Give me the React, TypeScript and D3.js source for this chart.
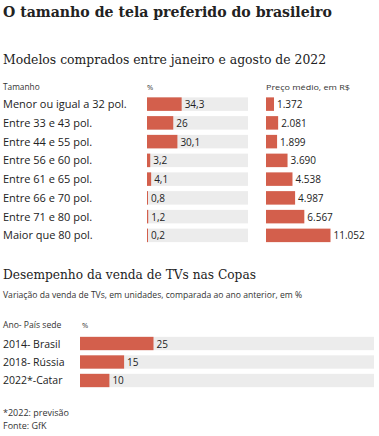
import React from "react";
import * as d3 from "d3";

const sizeCategories = [
  "Menor ou igual a 32 pol.",
  "Entre 33 e 43 pol.",
  "Entre 44 e 55 pol.",
  "Entre 56 e 60 pol.",
  "Entre 61 e 65 pol.",
  "Entre 66 e 70 pol.",
  "Entre 71 e 80 pol.",
  "Maior que 80 pol.",
];
const sharePct = [34.3, 26, 30.1, 3.2, 4.1, 0.8, 1.2, 0.2];
const avgPrice = [1372, 2081, 1899, 3690, 4538, 4987, 6567, 11052];

const cupLabels = ["2014- Brasil", "2018- Rússia", "2022*-Catar"];
const cupValues = [25, 15, 10];

const RED = "#d35f4c";
const GREY = "#ececec";
const SANS = "'Open Sans', 'Noto Sans', sans-serif";
const SERIF = "'DejaVu Serif', serif";

const fmtPct = (v: number) => String(v).replace(".", ",");
const fmtPrice = (v: number) => d3.format(",")(v).replace(/,/g, ".");

export default function App() {
  const W = 379, H = 436;

  const yRows = d3.scaleBand<string>().domain(sizeCategories).range([95.5, 244]).paddingInner(0.28).paddingOuter(0.1);
  const xPct = d3.scaleLinear().domain([0, 100]).range([0, 101]);
  const xPrice = d3.scaleLinear().domain([0, 11052]).range([0, 64.5]);
  const pctX0 = 147;
  const priceX0 = 266;

  const yCup = d3.scaleBand<string>().domain(cupLabels).range([335, 389]).paddingInner(0.28).paddingOuter(0.1);
  const xCup = d3.scaleLinear().domain([0, 100]).range([0, 294]);
  const cupX0 = 80;

  return (
    <svg width={W} height={H} style={{ position: "absolute", left: 0, top: 0, background: "#fff" }}>
      <text x={3} y={17} fontFamily={SERIF} fontWeight="bold" fontSize={14.1} fill="#222">
        O tamanho de tela preferido do brasileiro
      </text>
      <text x={3} y={64} fontFamily={SERIF} fontSize={12.4} fill="#222">
        Modelos comprados entre janeiro e agosto de 2022
      </text>
      <text x={3} y={90} fontFamily={SANS} fontSize={8.3} fill="#333">Tamanho</text>
      <text x={147} y={90} fontFamily={SANS} fontSize={7.5} fill="#333">%</text>
      <text x={266} y={90} fontFamily={SANS} fontSize={8} fill="#333" textLength={84} lengthAdjust="spacingAndGlyphs">Preço médio, em R$</text>

      {sizeCategories.map((c, i) => {
        const y = yRows(c)!;
        const h = yRows.bandwidth();
        const cy = y + h / 2;
        return (
          <g key={c}>
            <text x={3} y={cy + 4} fontFamily={SANS} fontSize={11} fill="#222">{c}</text>
            <rect x={pctX0} y={y} width={xPct(100)} height={h} fill={GREY} />
            <rect x={pctX0} y={y} width={Math.max(1, xPct(sharePct[i]))} height={h} fill={RED} />
            <text x={pctX0 + Math.max(1, xPct(sharePct[i])) + 3} y={cy + 4} fontFamily={SANS} fontSize={10} fill="#222">
              {fmtPct(sharePct[i])}
            </text>
            <rect x={priceX0} y={y} width={xPrice(avgPrice[i])} height={h} fill={RED} />
            <text x={priceX0 + xPrice(avgPrice[i]) + 3} y={cy + 4} fontFamily={SANS} fontSize={10} fill="#222">
              {fmtPrice(avgPrice[i])}
            </text>
          </g>
        );
      })}

      <text x={3} y={279} fontFamily={SERIF} fontSize={12.2} fill="#222">
        Desempenho da venda de TVs nas Copas
      </text>
      <text x={3} y={298} fontFamily={SANS} fontSize={8.6} fill="#333">
        Variação da venda de TVs, em unidades, comparada ao ano anterior, em %
      </text>
      <text x={3} y={328} fontFamily={SANS} fontSize={8.6} fill="#333">Ano- País sede</text>
      <text x={82} y={328} fontFamily={SANS} fontSize={7.5} fill="#333">%</text>

      {cupLabels.map((c, i) => {
        const y = yCup(c)!;
        const h = yCup.bandwidth();
        const cy = y + h / 2;
        return (
          <g key={c}>
            <text x={3} y={cy + 4} fontFamily={SANS} fontSize={10.5} fill="#222">{c}</text>
            <rect x={cupX0} y={y} width={xCup(100)} height={h} fill={GREY} />
            <rect x={cupX0} y={y} width={xCup(cupValues[i])} height={h} fill={RED} />
            <text x={cupX0 + xCup(cupValues[i]) + 3} y={cy + 4} fontFamily={SANS} fontSize={10} fill="#222">
              {cupValues[i]}
            </text>
          </g>
        );
      })}

      <text x={3} y={416} fontFamily={SANS} fontSize={9} fill="#333">*2022: previsão</text>
      <text x={3} y={429} fontFamily={SANS} fontSize={9} fill="#333">Fonte: GfK</text>
    </svg>
  );
}
